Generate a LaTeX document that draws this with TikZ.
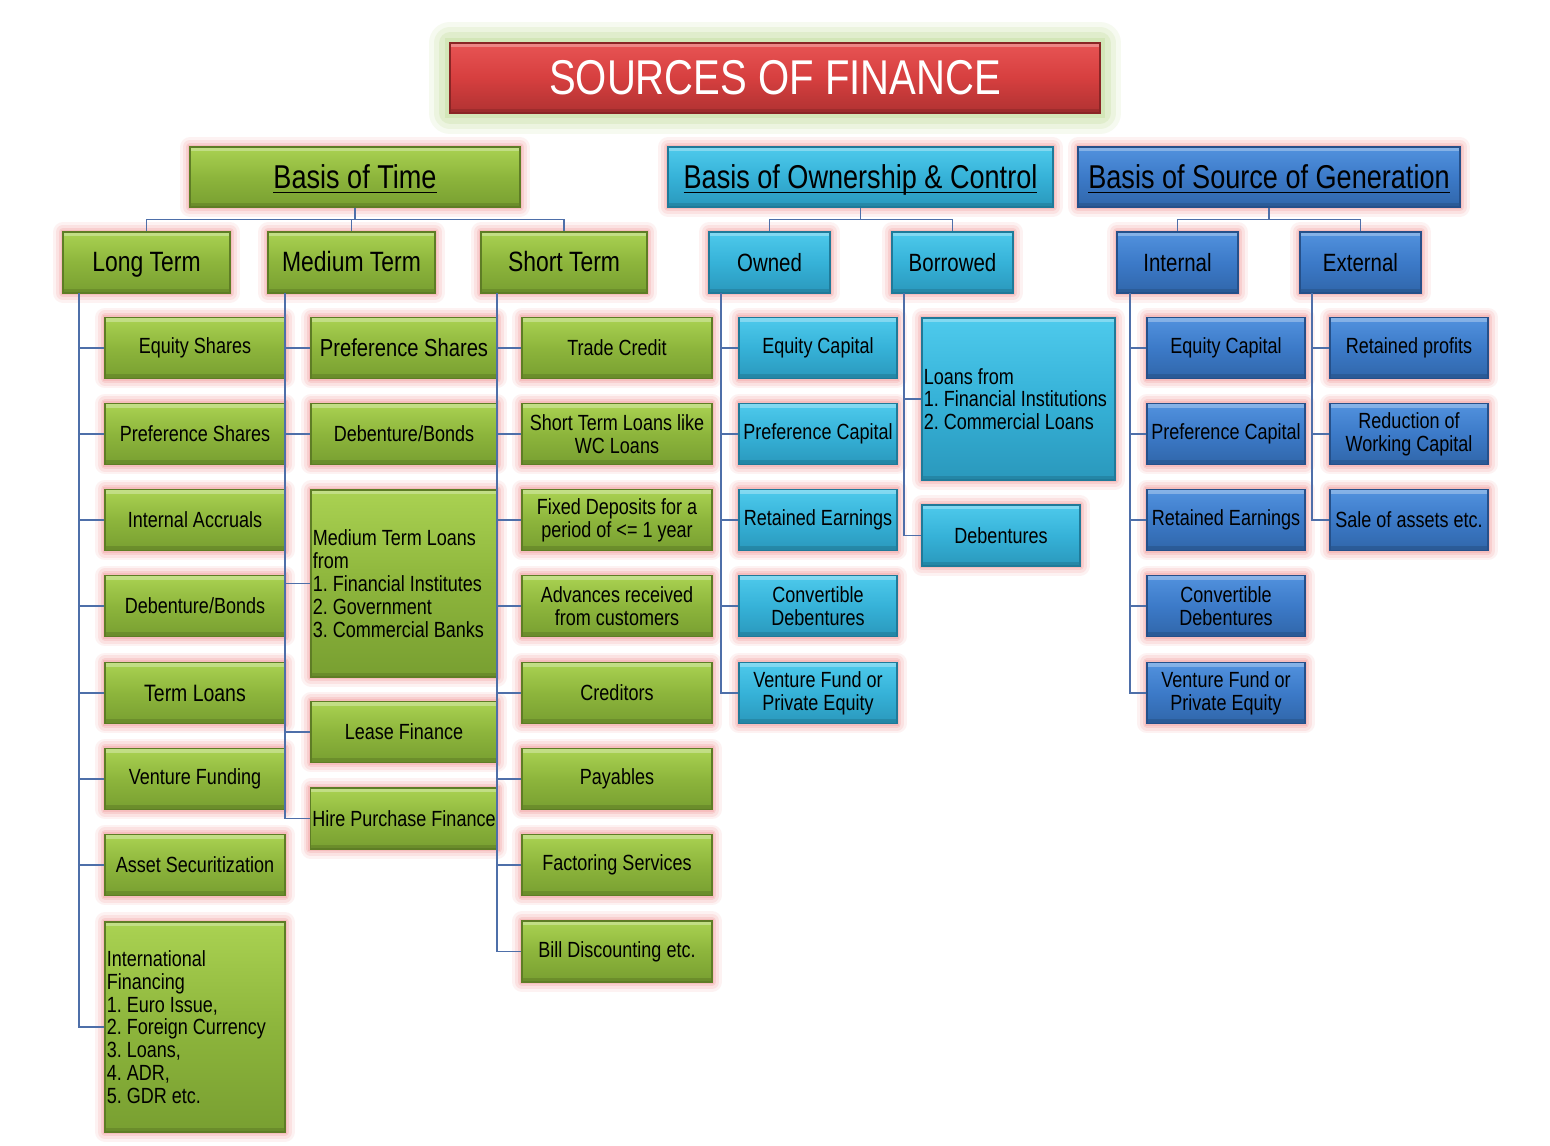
\documentclass[tikz,border=0pt]{standalone}
\usepackage{fontspec}
\setmainfont{Liberation Sans}[FakeStretch=0.82]
\frenchspacing

\definecolor{gTop}{HTML}{AAD252}
\definecolor{gMid}{HTML}{8DB53C}
\definecolor{gBot}{HTML}{789F31}
\definecolor{gEdge}{HTML}{5E7D25}
\definecolor{cTop}{HTML}{4ECAEC}
\definecolor{cMid}{HTML}{36B2D8}
\definecolor{cBot}{HTML}{2A98BC}
\definecolor{cEdge}{HTML}{1F7A99}
\definecolor{bTop}{HTML}{5292DE}
\definecolor{bMid}{HTML}{3C7AC8}
\definecolor{bBot}{HTML}{3066AA}
\definecolor{bEdge}{HTML}{25508A}
\definecolor{rTop}{HTML}{E85454}
\definecolor{rMid}{HTML}{D63F3F}
\definecolor{rBot}{HTML}{B03232}
\definecolor{rEdge}{HTML}{8A2525}
\definecolor{glowPink}{HTML}{F29A9A}
\definecolor{glowGreen}{HTML}{B8D88A}
\definecolor{lineBlue}{HTML}{4E6FA9}

\newcommand\fsz[2]{\fontsize{#1pt}{#2pt}\selectfont}
\newcommand\uln[1]{\setbox0\hbox{#1}\rlap{\smash{\rule[-3pt]{\wd0}{0.8pt}}}\box0}

\tikzset{
  wh/.style 2 args={minimum width=#1*0.02cm, minimum height=#2*0.02cm},
  bevel/.style={path picture={
      \fill[white, opacity=.3] (path picture bounding box.north west) rectangle ([yshift=-2.5pt]path picture bounding box.north east);
      \fill[black, opacity=.12] (path picture bounding box.south west) rectangle ([yshift=2.5pt]path picture bounding box.south east);}},
  box/.style={rectangle, line width=0.6pt, inner xsep=1pt, inner ysep=1pt, align=flush center, text=black, font=\fsz{12.5}{13}, bevel,
      preaction={draw=glowPink, line width=11pt, opacity=.12, line join=round},
      preaction={draw=glowPink, line width=8pt, opacity=.18, line join=round},
      preaction={draw=glowPink, line width=5pt, opacity=.25, line join=round},
      preaction={draw=glowPink, line width=2.5pt, opacity=.3}},
  gbox/.style={box, draw=gEdge, top color=gTop, bottom color=gBot, middle color=gMid},
  cbox/.style={box, draw=cEdge, top color=cTop, bottom color=cBot, middle color=cMid},
  bbox/.style={box, draw=bEdge, top color=bTop, bottom color=bBot, middle color=bMid},
  rbox/.style={rectangle, line width=0.6pt, draw=rEdge, top color=rTop, bottom color=rBot, middle color=rMid, bevel,
      text=white, font=\fsz{27.8}{30},
      preaction={draw=glowGreen, line width=24pt, opacity=.12, line join=round},
      preaction={draw=glowGreen, line width=18pt, opacity=.16, line join=round},
      preaction={draw=glowGreen, line width=12pt, opacity=.22, line join=round},
      preaction={draw=glowGreen, line width=6pt, opacity=.3}},
  head/.style={font=\fsz{18.8}{20}, text height=16pt, text depth=3.4pt},
  sub/.style={font=\fsz{15.9}{17}, text height=12.5pt, text depth=2pt},
  subr/.style={font=\fsz{14.2}{15}, text height=12.5pt, text depth=1.7pt},
  list/.style={align=flush left, text width=#1*0.02cm-2pt},
  conn/.style={draw=lineBlue, line width=1.1pt}
}

\begin{document}
\begin{tikzpicture}[x=0.02cm, y=-0.02cm]
    \fill[white] (0,0) rectangle (1550,1145);
    \useasboundingbox (0,0) rectangle (1550,1145);

    % title and the three bases
    \node[rbox, wh={650}{70}] (title) at (775,78) {SOURCES OF FINANCE};
    \node[gbox, head, wh={330}{60}] (bt) at (355,177) {\uln{Basis of Time}};
    \node[cbox, head, wh={385}{60}] (boc) at (860.5,177) {\uln{Basis of Ownership \& Control}};
    \node[bbox, head, wh={382}{60}] (bsg) at (1269,177) {\uln{Basis of Source of Generation}};

    % second level
    \node[gbox, sub, wh={167}{61}] (lt) at (146.5,262.5) {Long Term};
    \node[gbox, sub, wh={167}{61}] (mt) at (351.5,262.5) {Medium Term};
    \node[gbox, sub, wh={166}{61}] (st) at (564,262.5) {Short Term};
    \node[cbox, subr, wh={121}{61}] (ow) at (769.5,262.5) {Owned};
    \node[cbox, subr, wh={121}{61}] (bo) at (952.5,262.5) {Borrowed};
    \node[bbox, subr, wh={121}{61}] (in) at (1177.5,262.5) {Internal};
    \node[bbox, subr, wh={121}{61}] (ex) at (1360.5,262.5) {External};

    % long term
    \foreach \n/\y/\t in {lt1/348/Equity Shares, lt2/434/Preference Shares, lt3/520/Internal Accruals,
        lt4/606/{Debenture/Bonds}, lt5/693/{\fsz{13.5}{14}Term Loans}, lt6/779/Venture Funding, lt7/865/Asset Securitization}
        \node[gbox, wh={180}{61}] (\n) at (195,\y) {\t};
    \node[gbox, list=180, wh={180}{210}] (lt8) at (195,1027)
        {International\\Financing\\1. Euro Issue,\\2. Foreign Currency\\3. Loans,\\4. ADR,\\5. GDR etc.};

    % medium term
    \node[gbox, wh={186}{61}, font=\fsz{14}{15}] (mt1) at (404,348) {Preference Shares};
    \node[gbox, wh={186}{61}] (mt2) at (404,434) {Debenture/Bonds};
    \node[gbox, list=186, wh={186}{187}] (mt3) at (404,583.5)
        {Medium Term Loans\\from\\1. Financial Institutes\\2. Government\\3. Commercial Banks};
    \node[gbox, wh={186}{61}] (mt4) at (404,732) {Lease Finance};
    \node[gbox, wh={186}{61}] (mt5) at (404,818.5) {Hire Purchase Finance};

    % short term
    \foreach \n/\y/\t in {st1/348/Trade Credit, st2/434/{Short Term Loans like\\WC Loans},
        st3/520/{Fixed Deposits for a\\period of <= 1 year}, st4/606/{Advances received\\from customers},
        st5/693/Creditors, st6/779/Payables, st7/865/Factoring Services, st8/951.5/{Bill Discounting etc.}}
        \node[gbox, wh={190}{61}] (\n) at (617,\y) {\t};

    % owned and internal
    \foreach \n/\y/\t in {1/348/Equity Capital, 2/434/Preference Capital, 3/520/Retained Earnings,
        4/606/{Convertible\\Debentures}, 5/693/{Venture Fund or\\Private Equity}} {
        \node[cbox, wh={158}{61}] (ow\n) at (818,\y) {\t};
        \node[bbox, wh={158}{61}] (in\n) at (1226,\y) {\t};
    }

    % borrowed
    \node[cbox, list=193, wh={193}{162}] (bo1) at (1018.5,399)
        {Loans from\\1. Financial Institutions\\2. Commercial Loans};
    \node[cbox, wh={158}{61}] (bo2) at (1001,535.5) {Debentures};

    % external
    \foreach \n/\y/\t in {ex1/348/Retained profits, ex2/434/{Reduction of\\Working Capital}, ex3/520/{Sale of assets etc.}}
        \node[bbox, wh={158}{61}] (\n) at (1409,\y) {\t};

    % connectors
    \foreach \p/\c in {bt/lt, bt/mt, bt/st, boc/ow, boc/bo, bsg/in, bsg/ex}
        \draw[conn] (\p.south) -- ++(0,12) -| (\c.north);

    \coordinate (ltbar) at (79,293);
    \coordinate (mtbar) at (285,293);
    \coordinate (stbar) at (497,293);
    \coordinate (owbar) at (721,293);
    \coordinate (bobar) at (904,293);
    \coordinate (inbar) at (1130,293);
    \coordinate (exbar) at (1312,293);

    \foreach \c in {lt1,lt2,lt3,lt4,lt5,lt6,lt7,lt8}
        \draw[conn] (ltbar) |- (\c.west);
    \foreach \c in {mt1,mt2,mt3,mt4,mt5}
        \draw[conn] (mtbar) |- (\c.west);
    \foreach \c in {st1,st2,st3,st4,st5,st6,st7,st8}
        \draw[conn] (stbar) |- (\c.west);
    \foreach \c in {ow1,ow2,ow3,ow4,ow5}
        \draw[conn] (owbar) |- (\c.west);
    \foreach \c in {bo1,bo2}
        \draw[conn] (bobar) |- (\c.west);
    \foreach \c in {in1,in2,in3,in4,in5}
        \draw[conn] (inbar) |- (\c.west);
    \foreach \c in {ex1,ex2,ex3}
        \draw[conn] (exbar) |- (\c.west);
\end{tikzpicture}
\end{document}
